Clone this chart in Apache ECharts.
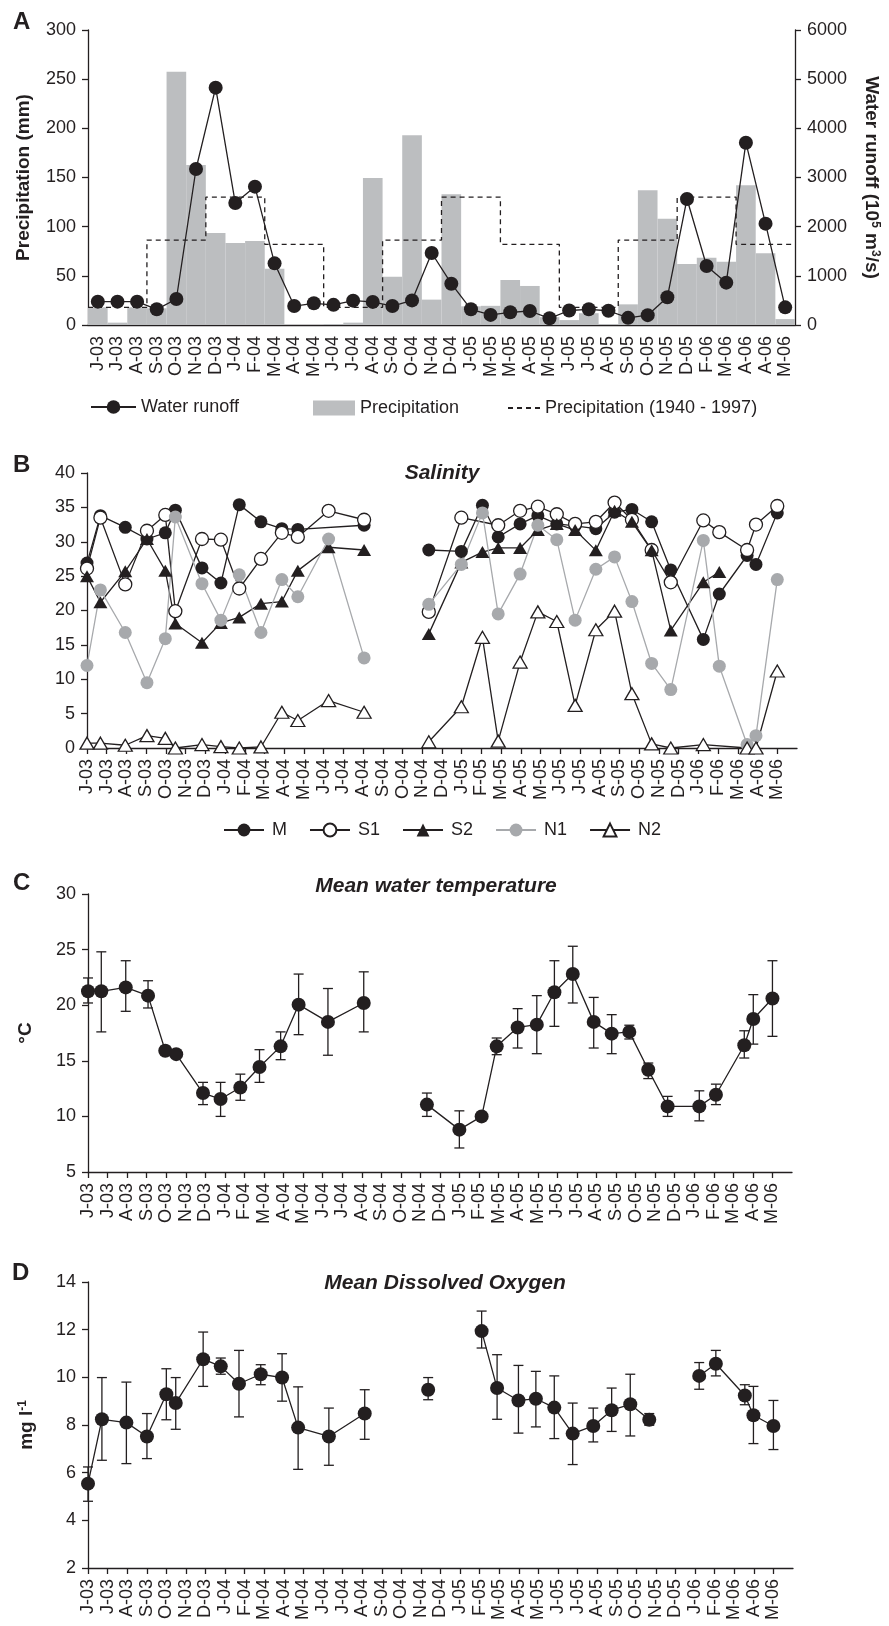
<!DOCTYPE html>
<html>
<head>
<meta charset="utf-8">
<script src="https://cdn.jsdelivr.net/npm/echarts@6/dist/echarts.min.js"></script>
<style>
  html, body { margin: 0; background: #fff; }
  #chart { width: 889px; height: 1626px; }
</style>
</head>
<body>
<div id="chart"></div>
<script>
// ---- panel A: rain + river runoff, one value per month ----
const monthsA = ['J-03','J-03','A-03','S-03','O-03','N-03','D-03','J-04','F-04','M-04','A-04','M-04',
  'J-04','J-04','A-04','S-04','O-04','N-04','D-04','J-05','M-05','M-05','A-05','M-05',
  'J-05','J-05','A-05','S-05','O-05','N-05','D-05','F-06','M-06','A-06','A-06','M-06'];
const precipitation = [18, 2.4, 18, 17, 257.6, 162.7, 93.6, 83.4, 85.4, 57.3, 0, 0,
  1, 2.4, 149.5, 49, 193, 25.8, 133, 19, 19.5, 45.8, 39.7, 8,
  5, 12, 1, 21, 137, 108, 62, 68.5, 64.4, 142, 73, 6];
const runoff = [475, 475, 475, 319, 529, 3173, 4827, 2481, 2814, 1254, 386, 441,
  410, 495, 470, 385, 500, 1464, 840, 319, 205, 258, 285, 136,
  295, 319, 290, 145, 200, 563, 2563, 1200, 861, 3708, 2061, 359];
// 1940-1997 mean, one value per 3-month block
const precipNorm = [18, 86.4, 130, 82, 18, 86.4, 130, 82, 18, 86.4, 130, 82];

// ---- panels B-D share these month ticks ----
const months = ['J-03','J-03','A-03','S-03','O-03','N-03','D-03','J-04','F-04','M-04','A-04','M-04',
  'J-04','J-04','A-04','S-04','O-04','N-04','D-04','J-05','F-05','M-05','A-05','M-05',
  'J-05','J-05','A-05','S-05','O-05','N-05','D-05','J-06','F-06','M-06','A-06','M-06'];

// ---- panel B: salinity per station (x = sampling date in month units, null x = gap) ----
const salX = [0, 0.68, 1.94, 3.04, 3.97, 4.48, 5.83, 6.79, 7.72, 8.82, 9.88, 10.69, 12.25, 14.05, null,
  17.33, 18.98, 20.05, 20.85, 21.96, 22.86, 23.82, 24.75, 25.8, 26.75, 27.63, 28.63, 29.6, 31.25, 32.06, 33.47, 33.92, 35.0];
const salM  = [26.9, 33.8, 32.1, 30.4, 31.3, 34.6, 26.2, 24.0, 35.4, 32.9, 31.9, 31.8, null, 32.4, null,
  28.8, 28.6, 35.3, 30.7, 32.6, 33.8, 32.6, 32.3, 31.9, 34.3, 34.7, 32.9, 25.9, 15.8, 22.4, 28.0, 26.7, 34.2];
const salS1 = [26.1, 33.5, 23.8, 31.6, 33.9, 19.9, 30.4, 30.3, 23.2, 27.5, 31.3, 30.7, 34.5, 33.2, null,
  19.8, 33.5, null, 32.4, 34.5, 35.1, 34.0, 32.6, 32.9, 35.7, 33.2, 28.8, 24.1, 33.1, 31.4, 28.8, 32.5, 35.2];
const salS2 = [25.0, 21.2, 25.7, 30.4, 25.8, 18.1, 15.3, 18.2, 19.0, 21.0, 21.3, 25.8, 29.2, 28.8, null,
  16.6, 27.0, 28.5, 29.1, 29.1, 31.7, 32.6, 31.7, 28.75, 34.5, 32.9, 28.75, 17.1, 24.1, 25.6, null, null, null];
const salN1 = [12.0, 23.0, 16.8, 9.5, 15.9, 33.6, 23.9, 18.6, 25.2, 16.8, 24.5, 22.0, 30.4, 13.1, null,
  20.9, 26.7, 34.2, 19.5, 25.3, 32.4, 30.3, 18.6, 26.0, 27.8, 21.3, 12.3, 8.5, 30.2, 11.9, 0.5, 1.8, 24.5];
const salN2 = [0.7, 0.7, 0.4, 1.8, 1.4, 0.0, 0.5, 0.2, 0.0, 0.15, 5.2, 4.0, 6.9, 5.2, null,
  0.9, 6.0, 16.1, 1.0, 12.5, 19.8, 18.4, 6.2, 17.2, 19.9, 7.9, 0.6, 0.0, 0.5, null, 0.0, 0.0, 11.2];

// ---- panel C: mean water temperature with error bars ----
const tempX = [0, 0.68, 1.93, 3.07, 3.95, 4.51, 5.88, 6.78, 7.79, 8.77, 9.85, 10.77, 12.27, 14.1, null,
  17.33, 18.99, 20.13, 20.9, 21.97, 22.95, 23.85, 24.79, 25.86, 26.78, 27.68, 28.65, 29.64, 31.26, 32.11, 33.56, 34.02, 35.0];
const tempMean = [21.25, 21.25, 21.6, 20.86, 15.9, 15.6, 12.1, 11.56, 12.6, 14.44, 16.3, 20.05, 18.5, 20.2, null,
  11.06, 8.81, 10.0, 16.3, 18.0, 18.25, 21.16, 22.8, 18.5, 17.44, 17.6, 14.2, 10.9, 10.9, 11.95, 16.4, 18.76, 20.6];
const tempHi = [22.45, 24.8, 24.0, 22.2, 16.3, 15.8, 13.06, 13.06, 13.8, 16.0, 17.6, 22.8, 21.5, 23.0, null,
  12.1, 10.5, 10.2, 17.05, 19.69, 20.86, 24.0, 25.3, 20.7, 19.15, 18.2, 14.8, 11.8, 12.3, 12.9, 17.7, 20.95, 24.0];
const tempLo = [20.2, 17.6, 19.45, 19.75, 15.6, 15.4, 11.06, 10.0, 11.45, 13.06, 15.1, 17.35, 15.5, 17.6, null,
  10.0, 7.16, 9.8, 15.55, 16.15, 15.64, 18.1, 20.2, 16.15, 15.64, 16.96, 13.4, 10.0, 9.6, 11.06, 15.25, 16.5, 17.2];

// ---- panel D: mean dissolved oxygen with error bars ----
const doX = [0, 0.71, 1.96, 3.01, 4.0, 4.48, 5.88, 6.78, 7.71, 8.82, 9.91, 10.73, 12.3, 14.13, null,
  17.37, null, 20.1, 20.89, 21.98, 22.87, 23.81, 24.75, 25.8, 26.74, 27.69, 28.66, null,
  31.21, 32.06, 33.54, 33.98, 35.0];
const doMean = [5.54, 8.24, 8.1, 7.52, 9.29, 8.92, 10.76, 10.46, 9.73, 10.13, 9.99, 7.89, 7.52, 8.48, null,
  9.48, null, 11.94, 9.55, 9.03, 9.1, 8.73, 7.64, 7.96, 8.62, 8.87, 8.22, null,
  10.06, 10.57, 9.24, 8.41, 7.96];
const doHi = [6.24, 9.99, 9.8, 8.48, 10.36, 9.99, 11.9, 10.81, 11.13, 10.53, 10.99, 9.6, 8.71, 9.48, null,
  9.99, null, 12.78, 10.95, 10.5, 10.25, 10.06, 8.92, 8.71, 9.55, 10.13, 8.48, null,
  10.62, 11.13, 9.69, 9.62, 9.03];
const doLo = [4.8, 6.52, 6.38, 6.59, 8.22, 7.82, 9.62, 10.13, 8.34, 9.69, 9.0, 6.14, 6.31, 7.4, null,
  9.06, null, 11.23, 8.24, 7.66, 7.92, 7.43, 6.34, 7.29, 7.73, 7.54, 7.99, null,
  9.5, 10.06, 8.85, 7.22, 6.97];

const FONT = "'Liberation Sans', Arial, sans-serif";
const INK = '#231f20';
const GREY = '#a7a9ac';

// null x -> line break, null value -> station not sampled (line runs past it)
function lineData(xs, vs) {
  const out = [];
  xs.forEach((x, i) => {
    if (x == null) out.push('-');
    else if (vs[i] != null) out.push([x, vs[i]]);
  });
  return out;
}
function errData(xs, lo, hi) {
  const out = [];
  xs.forEach((x, i) => { if (x != null && lo[i] != null) out.push([x, lo[i], hi[i]]); });
  return out;
}
// step line for the long-term mean: each block covers 3 months
const normSteps = precipNorm.map((v, i) => [i * 3, v]);
normSteps.push([precipNorm.length * 3, precipNorm[precipNorm.length - 1]]);

// one tick per month label, none at the far end of the axis
const monthTicks = months.map((m, i) => i);

function errorBars(params, api) {
  const x = api.value(0);
  const lo = api.coord([x, api.value(1)]);
  const hi = api.coord([x, api.value(2)]);
  const w = 5;
  const st = { stroke: INK, lineWidth: 1.3 };
  return {
    type: 'group',
    children: [
      { type: 'line', shape: { x1: lo[0], y1: lo[1], x2: hi[0], y2: hi[1] }, style: st },
      { type: 'line', shape: { x1: hi[0] - w, y1: hi[1], x2: hi[0] + w, y2: hi[1] }, style: st },
      { type: 'line', shape: { x1: lo[0] - w, y1: lo[1], x2: lo[0] + w, y2: lo[1] }, style: st }
    ]
  };
}

const axisLine = { lineStyle: { color: INK, width: 1.3 } };
const tickStyle = { length: 6, lineStyle: { color: INK, width: 1.3 } };
const tickLabel = { color: INK, fontSize: 18, fontFamily: FONT };
const legendText = { fontSize: 18, color: INK, fontFamily: FONT };

function monthAxis(grid) {
  return {
    type: 'value', gridIndex: grid, min: 0, max: 36, interval: 1,
    axisLine: axisLine, splitLine: { show: false },
    axisTick: Object.assign({ customValues: monthTicks }, tickStyle),
    axisLabel: Object.assign({}, tickLabel, { rotate: 90, margin: 11, customValues: monthTicks,
      formatter: v => months[v] || '' })
  };
}
function valueAxis(grid, min, max, step, name, gap) {
  return {
    type: 'value', gridIndex: grid, min: min, max: max, interval: step,
    axisLine: Object.assign({ show: true }, axisLine), axisTick: Object.assign({ show: true }, tickStyle),
    splitLine: { show: false },
    axisLabel: Object.assign({}, tickLabel, { margin: 12, formatter: v => String(v) }),
    name: name, nameLocation: 'middle', nameRotate: 90, nameGap: gap,
    nameTextStyle: { color: INK, fontSize: 19, fontWeight: 'bold', fontFamily: FONT,
      rich: { sup: { fontSize: 12, fontWeight: 'bold', fontFamily: FONT, color: INK, verticalAlign: 'top', padding: [0, 0, 8, 0] } } }
  };
}

const titleFont = 'italic bold 21px ' + FONT;
const letterFont = 'bold 24px ' + FONT;
function label(text, x, y, font, align) {
  return { type: 'text', x: x, y: y,
    style: { text: text, font: font, fill: INK, textAlign: align, textVerticalAlign: 'middle' } };
}

const chart = echarts.init(document.getElementById('chart'), null, { renderer: 'canvas' });

chart.setOption({
  animation: false,
  backgroundColor: '#fff',
  textStyle: { fontFamily: FONT },
  graphic: [
    label('A', 13, 22, letterFont, 'left'),
    label('B', 13, 465, letterFont, 'left'),
    label('C', 13, 883, letterFont, 'left'),
    label('D', 12, 1273, letterFont, 'left'),
    label('Salinity', 442, 473, titleFont, 'center'),
    label('Mean water temperature', 436, 886, titleFont, 'center'),
    label('Mean Dissolved Oxygen', 445, 1283, titleFont, 'center')
  ],
  legend: [
    { data: ['Water runoff'], left: 85, top: 393, itemWidth: 45, itemHeight: 17,
      textStyle: legendText },
    { data: [{ name: 'Precipitation', icon: 'rect' }], left: 308, top: 394, itemWidth: 42, itemHeight: 15,
      textStyle: legendText },
    { data: [{ name: 'Precipitation (1940 - 1997)', itemStyle: { opacity: 0 } }], left: 502, top: 394,
      itemWidth: 32, itemHeight: 14, textStyle: legendText },
    { data: ['M', 'S1', 'S2', 'N1', 'N2'], left: 218, top: 816, itemWidth: 40, itemHeight: 16, itemGap: 22,
      textStyle: Object.assign({}, legendText, { padding: [0, 0, 0, 3] }) }
  ],
  grid: [
    { left: 88, top: 30, width: 709, height: 295 },
    { left: 87, top: 473, width: 710, height: 275 },
    { left: 88, top: 894, width: 704, height: 278 },
    { left: 88, top: 1282, width: 705, height: 286 }
  ],
  xAxis: [
    { type: 'category', gridIndex: 0, data: monthsA, boundaryGap: true,
      axisLine: axisLine, axisTick: tickStyle,
      axisLabel: Object.assign({}, tickLabel, { rotate: 90, interval: 0, margin: 11 }) },
    { type: 'value', gridIndex: 0, min: 0, max: 36, show: false },
    monthAxis(1),
    monthAxis(2),
    monthAxis(3)
  ],
  yAxis: [
    valueAxis(0, 0, 300, 50, 'Precipitation (mm)', 55),
    Object.assign(valueAxis(0, 0, 6000, 1000, 'Water runoff (10{sup|5} m{sup|3}/s)', 66),
      { position: 'right', nameRotate: -90 }),
    valueAxis(1, 0, 40, 5, '', 0),
    valueAxis(2, 5, 30, 5, '°C', 53),
    valueAxis(3, 2, 14, 2, 'mg l{sup|-1}', 51)
  ],
  series: [
    { name: 'Precipitation', type: 'bar', xAxisIndex: 0, yAxisIndex: 0, data: precipitation,
      barWidth: '100%', barCategoryGap: '0%', itemStyle: { color: '#bcbec0' } },
    { name: 'Precipitation (1940 - 1997)', type: 'line', xAxisIndex: 1, yAxisIndex: 0, data: normSteps,
      step: 'end', symbol: 'none', itemStyle: { color: INK },
      lineStyle: { color: INK, width: 1.3, type: [5, 4] }, z: 3 },
    { name: 'Water runoff', type: 'line', xAxisIndex: 0, yAxisIndex: 1, data: runoff,
      symbol: 'circle', symbolSize: 14, itemStyle: { color: INK }, lineStyle: { color: INK, width: 1.3 }, z: 4 },

    { name: 'M', type: 'line', xAxisIndex: 2, yAxisIndex: 2, data: lineData(salX, salM),
      symbol: 'circle', symbolSize: 13, itemStyle: { color: INK }, lineStyle: { color: INK, width: 1.3 } },
    { name: 'S1', type: 'line', xAxisIndex: 2, yAxisIndex: 2, data: lineData(salX, salS1),
      symbol: 'circle', symbolSize: 13, itemStyle: { color: '#fff', borderColor: INK, borderWidth: 1.3 },
      lineStyle: { color: INK, width: 1.3 } },
    { name: 'S2', type: 'line', xAxisIndex: 2, yAxisIndex: 2, data: lineData(salX, salS2),
      symbol: 'triangle', symbolSize: [14, 12], itemStyle: { color: INK }, lineStyle: { color: INK, width: 1.3 } },
    { name: 'N1', type: 'line', xAxisIndex: 2, yAxisIndex: 2, data: lineData(salX, salN1),
      symbol: 'circle', symbolSize: 13, itemStyle: { color: GREY }, lineStyle: { color: GREY, width: 1.3 } },
    { name: 'N2', type: 'line', xAxisIndex: 2, yAxisIndex: 2, data: lineData(salX, salN2),
      symbol: 'triangle', symbolSize: [14, 12], itemStyle: { color: '#fff', borderColor: INK, borderWidth: 1.3 },
      lineStyle: { color: INK, width: 1.3 } },

    { type: 'custom', xAxisIndex: 3, yAxisIndex: 3, data: errData(tempX, tempLo, tempHi),
      renderItem: errorBars, encode: { x: 0, y: [1, 2] }, z: 1 },
    { type: 'line', xAxisIndex: 3, yAxisIndex: 3, data: lineData(tempX, tempMean),
      symbol: 'circle', symbolSize: 14, itemStyle: { color: INK }, lineStyle: { color: INK, width: 1.3 }, z: 2 },

    { type: 'custom', xAxisIndex: 4, yAxisIndex: 4, data: errData(doX, doLo, doHi),
      renderItem: errorBars, encode: { x: 0, y: [1, 2] }, z: 1 },
    { type: 'line', xAxisIndex: 4, yAxisIndex: 4, data: lineData(doX, doMean),
      symbol: 'circle', symbolSize: 14, itemStyle: { color: INK }, lineStyle: { color: INK, width: 1.3 }, z: 2 }
  ]
});
</script>
</body>
</html>
